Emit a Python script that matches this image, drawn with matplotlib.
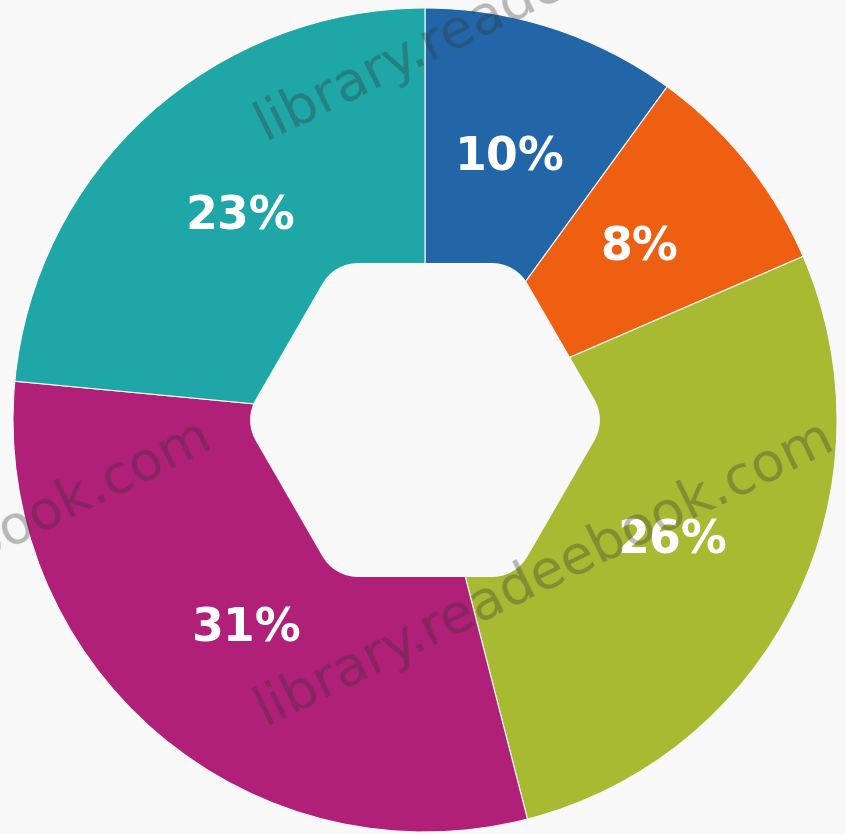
import numpy as np
import matplotlib
matplotlib.use("Agg")
import matplotlib.pyplot as plt
from matplotlib.patches import RegularPolygon

labels = ["10%", "8%", "26%", "31%", "23%"]
# slice sizes as drawn
sizes = [10, 8.5, 27.5, 30.5, 23.5]
colors = ["#2266a8", "#ee5f12", "#a8b932", "#b01f78", "#1fa6a6"]
watermark = "library.readeebook.com"

W, H = 846, 834
cx, cy = 425, 420
bg = "#f8f8f8"

fig = plt.figure(figsize=(W / 100, H / 100), dpi=100, facecolor=bg)
ax = fig.add_axes([0, 0, 1, 1])
ax.set_facecolor(bg)

wedges, _ = ax.pie(sizes, colors=colors, radius=412, startangle=90,
                   counterclock=False,
                   wedgeprops=dict(linewidth=0.8, edgecolor=bg))

hole = RegularPolygon((0, 0), numVertices=6, radius=134, orientation=np.pi / 6,
                      facecolor=bg, edgecolor=bg, linewidth=59, joinstyle="round",
                      zorder=3)
ax.add_patch(hole)

for w, lab in zip(wedges, labels):
    ang = np.deg2rad((w.theta1 + w.theta2) / 2)
    r = 275
    ax.text(r * np.cos(ang), r * np.sin(ang), lab, ha="center", va="center",
            color="white", fontsize=33, fontweight="bold",
            family="DejaVu Sans", zorder=4)

# watermark
wm = dict(color="#333333", alpha=0.33, fontsize=39, rotation=26,
          rotation_mode="anchor", family="DejaVu Sans", zorder=5, clip_on=True)
ax.text(265 - cx, cy - 140, watermark, ha="left", va="baseline", **wm)
ax.text(265 - cx, cy - 725, watermark, ha="left", va="baseline", **wm)
ax.text(215 - cx, cy - 445, watermark, ha="right", va="baseline", **wm)

ax.set_xlim(-cx, W - cx)
ax.set_ylim(-(H - cy), cy)
ax.set_aspect("auto")
ax.axis("off")

fig.savefig("out.png", dpi=100, facecolor=bg)
